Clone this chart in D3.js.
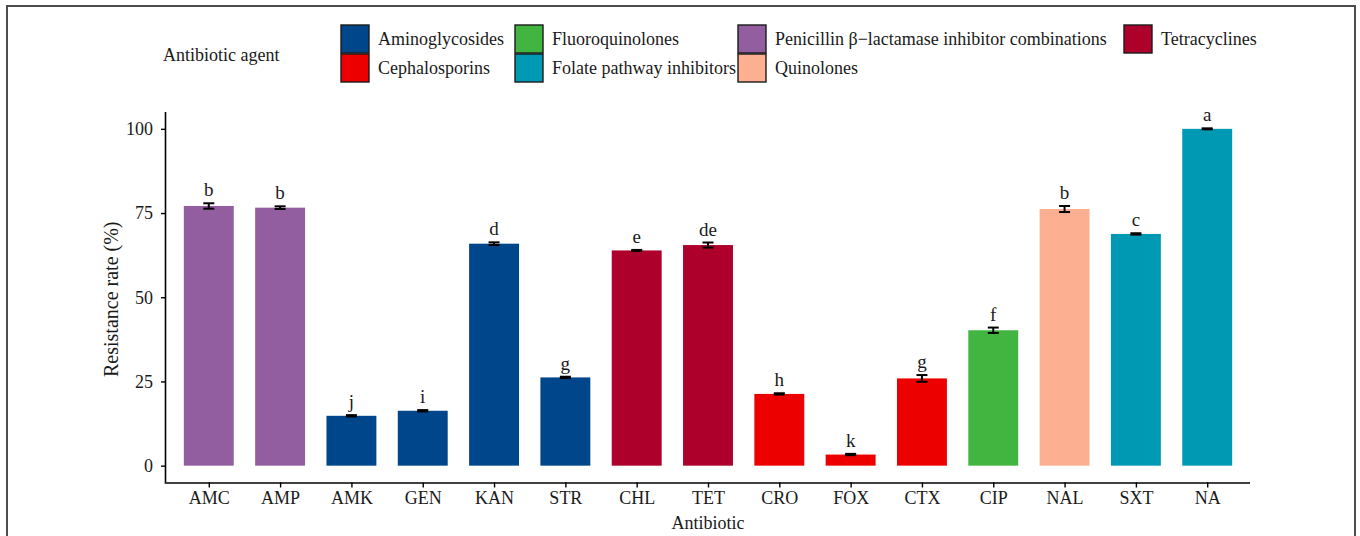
<!DOCTYPE html>
<html>
<head>
<meta charset="utf-8">
<script src="https://cdn.jsdelivr.net/npm/d3@7"></script>
<style>
html,body{margin:0;padding:0;background:#fff;}
svg{display:block;}
text{font-family:"Liberation Serif","Times New Roman",serif;fill:#1a1a1a;}
</style>
</head>
<body>
<svg id="chart" width="1360" height="536"></svg>
<script>
const antibiotics = ["AMC","AMP","AMK","GEN","KAN","STR","CHL","TET","CRO","FOX","CTX","CIP","NAL","SXT","NA"];
const resistance = [77.1, 76.6, 14.8, 16.3, 65.9, 26.2, 63.9, 65.5, 21.3, 3.3, 25.9, 40.2, 76.2, 68.8, 100];
const errors = [0.8, 0.4, 0.2, 0.2, 0.4, 0.2, 0.15, 0.75, 0.2, 0.2, 1.0, 0.8, 0.9, 0.2, 0.15];
const letters = ["b","b","j","i","d","g","e","de","h","k","g","f","b","c","a"];
const agentOf = ["Penicillin β−lactamase inhibitor combinations","Penicillin β−lactamase inhibitor combinations",
  "Aminoglycosides","Aminoglycosides","Aminoglycosides","Aminoglycosides",
  "Tetracyclines","Tetracyclines","Cephalosporins","Cephalosporins","Cephalosporins",
  "Fluoroquinolones","Quinolones","Folate pathway inhibitors","Folate pathway inhibitors"];
const agents = ["Aminoglycosides","Cephalosporins","Fluoroquinolones","Folate pathway inhibitors",
  "Penicillin β−lactamase inhibitor combinations","Quinolones","Tetracyclines"];
const agentColors = ["#00468B","#ED0000","#42B540","#0099B4","#925E9F","#FDAF91","#AD002A"];
const yTicks = [0,25,50,75,100];

(function(){
const svg = d3.select("#chart");
const pL = 166, pR = 1250, pT = 112, pB = 482.5;
const fs = 18;

// frame
svg.append("rect").attr("x",7).attr("y",6).attr("width",1348).attr("height",600)
  .attr("fill","none").attr("stroke","#4d4d4d").attr("stroke-width",2);

const x = d3.scalePoint().domain(antibiotics).range([pL,pR]).padding(0.6);
const y = d3.scaleLinear().domain([-5,105]).range([pB,pT]);
const color = d3.scaleOrdinal().domain(agents).range(agentColors);
const bw = x.step()*0.7;

const data = antibiotics.map((a,i)=>({a, v:resistance[i], e:errors[i], l:letters[i], g:agentOf[i]}));

// bars
svg.append("g").selectAll("rect").data(data).join("rect")
  .attr("x",d=>x(d.a)-bw/2).attr("width",bw)
  .attr("y",d=>y(d.v)).attr("height",d=>y(0)-y(d.v))
  .attr("fill",d=>color(d.g));

// error bars
const eg = svg.append("g").attr("stroke","#000").attr("stroke-width",2);
data.forEach(d=>{
  const cx = x(d.a), cw = 5.5;
  const y1 = y(d.v+d.e), y2 = y(d.v-d.e);
  eg.append("line").attr("x1",cx).attr("x2",cx).attr("y1",y1).attr("y2",y2);
  eg.append("line").attr("x1",cx-cw).attr("x2",cx+cw).attr("y1",y1).attr("y2",y1);
  eg.append("line").attr("x1",cx-cw).attr("x2",cx+cw).attr("y1",y2).attr("y2",y2);
});

// letters
svg.append("g").selectAll("text").data(data).join("text")
  .attr("x",d=>x(d.a)).attr("y",d=>y(d.v+d.e)-7)
  .attr("text-anchor","middle").attr("font-size",19).text(d=>d.l);

// axes
const yAxis = d3.axisLeft(y).tickValues(yTicks).tickSize(5).tickPadding(8);
const gy = svg.append("g").attr("transform",`translate(${pL},0)`).call(yAxis);
gy.select(".domain").attr("stroke","#000").attr("stroke-width",1.6).attr("d",`M-0.5,${pT}V${pB}`);
gy.selectAll(".tick line").attr("stroke","#000").attr("stroke-width",1.4);
gy.selectAll(".tick text").attr("font-size",fs).attr("font-family","Liberation Serif").attr("fill","#1a1a1a");

const xAxis = d3.axisBottom(x).tickSize(5).tickPadding(4);
const gx = svg.append("g").attr("transform",`translate(0,${pB})`).call(xAxis);
gx.select(".domain").attr("stroke","#000").attr("stroke-width",1.6).attr("d",`M${pL-1.3},0.5H${pR}`);
gx.selectAll(".tick line").attr("stroke","#000").attr("stroke-width",1.4);
gx.selectAll(".tick text").attr("font-size",fs).attr("font-family","Liberation Serif").attr("fill","#1a1a1a");

svg.append("text").attr("x",(pL+pR)/2).attr("y",529).attr("text-anchor","middle")
  .attr("font-size",fs).text("Antibiotic");
svg.append("text").attr("transform",`translate(118,${(pT+pB)/2 + 2}) rotate(-90)`)
  .attr("text-anchor","middle").attr("font-size",20).text("Resistance rate (%)");

// legend
svg.append("text").attr("x",163).attr("y",61).attr("font-size",fs).text("Antibiotic agent");
const colX = [341, 515, 738, 1124];
const rowY = [25, 54];
const lg = svg.append("g");
agents.forEach((g,i)=>{
  const c = Math.floor(i/2), r = i%2;
  lg.append("rect").attr("x",colX[c]).attr("y",rowY[r]).attr("width",28).attr("height",28)
    .attr("fill",color(g)).attr("stroke","#1a1a1a").attr("stroke-width",1.4);
  lg.append("text").attr("x",colX[c]+37).attr("y",rowY[r]+20).attr("font-size",fs).text(g);
});
})();
</script>
</body>
</html>
